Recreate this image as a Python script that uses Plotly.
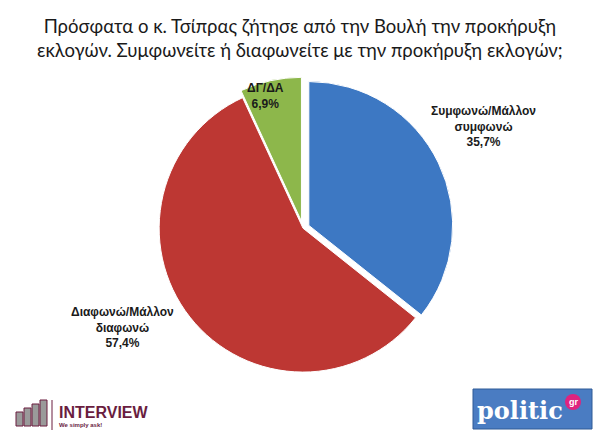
import plotly.graph_objects as go

labels = ["Συμφωνώ/Μάλλον<br>συμφωνώ", "Διαφωνώ/Μάλλον<br>διαφωνώ", "ΔΓ/ΔΑ"]
values = [35.7, 57.4, 6.9]
colors = ["#3d78c3", "#bd3733", "#8db74b"]
pulls = [0.045, 0.0, 0.05]

title = ("Πρόσφατα ο κ. Τσίπρας ζήτησε από την Βουλή την προκήρυξη<br>"
         "εκλογών. Συμφωνείτε ή διαφωνείτε με την προκήρυξη εκλογών;")

W, H = 600, 441


def px(x):
    return x / W


def py(y):
    return 1 - y / H


fig = go.Figure()
fig.add_trace(go.Pie(
    labels=labels,
    values=values,
    sort=False,
    direction="clockwise",
    rotation=0,
    pull=pulls,
    marker=dict(colors=colors, line=dict(color="white", width=1)),
    textinfo="none",
    hoverinfo="label+percent",
    domain=dict(x=[0.253, 0.757], y=[0.14, 0.825]),
    showlegend=False,
))

# slice labels, text built from the data
label_pos = [(483, 126), (122, 327), (265, 96)]
for lab, val, (lx, ly) in zip(labels, values, label_pos):
    fig.add_annotation(
        x=px(lx), y=py(ly), xref="paper", yref="paper",
        xanchor="center", yanchor="middle",
        text="<b>%s<br>%s%%</b>" % (lab, str(val).replace(".", ",")),
        showarrow=False, align="center",
        font=dict(family="Liberation Sans, Arial", size=12, color="#1a1a1a"),
    )

# title
fig.add_annotation(
    x=0.5, y=py(38), xref="paper", yref="paper",
    xanchor="center", yanchor="middle",
    text=title, showarrow=False, align="center",
    font=dict(family="Lato", size=18.5, color="#1a1a1a"),
)

shapes = []
# INTERVIEW logo bars
bar_x = [16, 24, 32, 40]
bar_top = [412, 408, 404, 400]
for bx, bt in zip(bar_x, bar_top):
    shapes.append(dict(type="rect", xref="paper", yref="paper",
                       x0=px(bx), x1=px(bx + 7), y0=py(426), y1=py(bt),
                       fillcolor="#9a9a9a", line=dict(color="#6a1d3f", width=1)))
shapes.append(dict(type="line", xref="paper", yref="paper",
                   x0=px(52), x1=px(52), y0=py(430), y1=py(400),
                   line=dict(color="#6a1d3f", width=1)))
# politic logo box
shapes.append(dict(type="rect", xref="paper", yref="paper",
                   x0=px(473), x1=px(592), y0=py(429), y1=py(389),
                   fillcolor="#4a7cc2", line=dict(color="#2f5a96", width=1),
                   layer="below"))
shapes.append(dict(type="circle", xref="paper", yref="paper",
                   x0=px(565), x1=px(581), y0=py(410), y1=py(394),
                   fillcolor="#e0237f", line=dict(width=0), layer="below"))

fig.add_annotation(x=px(57), y=py(412), xref="paper", yref="paper",
                   text="<b>INTERVIEW</b>", showarrow=False,
                   xanchor="left", yanchor="middle",
                   font=dict(family="Liberation Sans, Arial", size=16, color="#6a1d3f"))
fig.add_annotation(x=px(57), y=py(425), xref="paper", yref="paper",
                   text="<b>We simply ask!</b>", showarrow=False,
                   xanchor="left", yanchor="middle",
                   font=dict(family="Liberation Sans, Arial", size=6, color="#6a1d3f"))
fig.add_annotation(x=px(520), y=py(410), xref="paper", yref="paper",
                   text="<b>politic</b>", showarrow=False,
                   xanchor="center", yanchor="middle",
                   font=dict(family="DejaVu Serif", size=24, color="white"))
fig.add_annotation(x=px(573), y=py(402), xref="paper", yref="paper",
                   text="<b>gr</b>", showarrow=False,
                   xanchor="center", yanchor="middle",
                   font=dict(family="Liberation Sans, Arial", size=9, color="white"))

fig.update_layout(
    width=W, height=H,
    margin=dict(l=0, r=0, t=0, b=0),
    paper_bgcolor="white",
    plot_bgcolor="white",
    shapes=shapes,
)

fig.write_html("out.html", config={"displayModeBar": False},
               post_script="document.body.style.margin='0px';")
